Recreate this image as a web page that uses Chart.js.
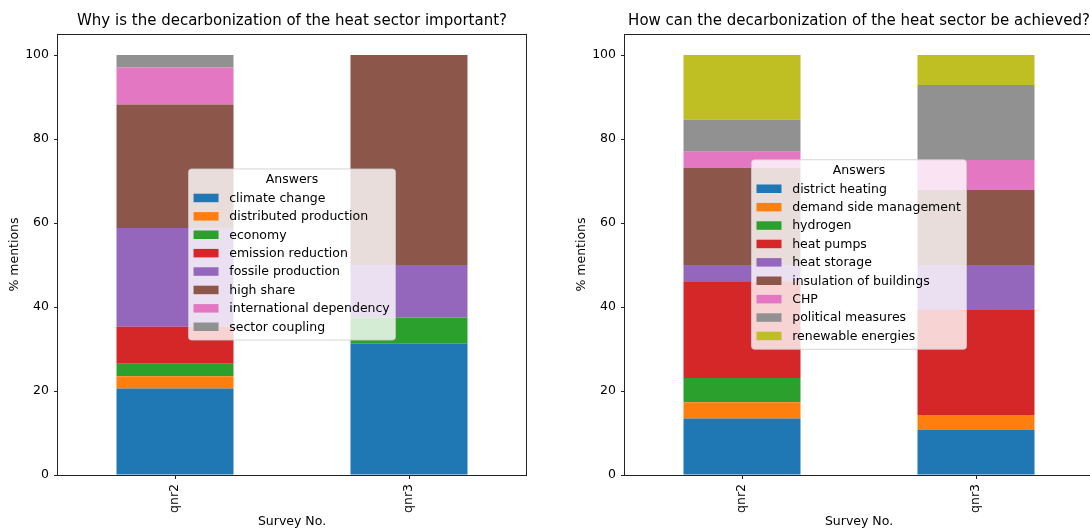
<!DOCTYPE html>
<html>
<head>
<meta charset="utf-8">
<script src="https://cdn.jsdelivr.net/npm/chart.js@4.4.1/dist/chart.umd.min.js"></script>
<style>
  html, body { margin: 0; padding: 0; background: #fff; overflow: hidden; width: 1090px; height: 532px; position: relative; }
  canvas { position: absolute; top: 0; }
  #why { left: 0; }
  #how { left: 567px; }
</style>
</head>
<body>
<canvas id="why" width="560" height="532"></canvas>
<canvas id="how" width="560" height="532"></canvas>
<script>
// Survey rounds on the x axis
const surveys = ['qnr2', 'qnr3'];

// Share of mentions (%) — "Why is the decarbonization of the heat sector important?"
const whyAnswers = ['climate change', 'distributed production', 'economy', 'emission reduction',
  'fossile production', 'high share', 'international dependency', 'sector coupling'];
const whyQnr2 = [20.59, 2.94, 2.94, 8.82, 23.53, 29.41, 8.82, 2.94];
const whyQnr3 = [31.25, 0, 6.25, 0, 12.5, 50.0, 0, 0];

// Share of mentions (%) — "How can the decarbonization of the heat sector be achieved?"
const howAnswers = ['district heating', 'demand side management', 'hydrogen', 'heat pumps',
  'heat storage', 'insulation of buildings', 'CHP', 'political measures', 'renewable energies'];
const howQnr2 = [13.46, 3.85, 5.77, 23.08, 3.85, 23.08, 3.85, 7.69, 15.38];
const howQnr3 = [10.71, 3.57, 0, 25.0, 10.71, 17.86, 7.14, 17.86, 7.14];

// Value axis ticks
const yTickValues = [0, 20, 40, 60, 80, 100];

const palette = ['#1f77b4', '#ff7f0e', '#2ca02c', '#d62728', '#9467bd',
  '#8c564b', '#e377c2', '#919191', '#bfbe22'];

const FONT = '"DejaVu Sans", "Liberation Sans", sans-serif';
const INK = '#222';
const LABEL_SIZE = 12.5;
Chart.defaults.font.family = FONT;
Chart.defaults.color = '#000';

// Box around the whole plot area (all four sides)
const frame = {
  id: 'frame',
  afterDatasetsDraw(chart) {
    const { ctx, chartArea: a } = chart;
    ctx.save();
    ctx.strokeStyle = INK;
    ctx.lineWidth = 1;
    ctx.strokeRect(Math.round(a.left) - 0.5, Math.round(a.top) + 0.5,
      Math.round(a.right) - Math.round(a.left) + 1, Math.round(a.bottom) - Math.round(a.top));
    ctx.restore();
  }
};

// Framed legend drawn in the middle of the plot area, over the bars
const boxLegend = {
  id: 'boxLegend',
  afterDraw(chart, args, o) {
    const { ctx, chartArea: a } = chart;
    const items = chart.data.datasets;
    ctx.save();
    ctx.font = `${o.fontSize}px ${FONT}`;
    const textW = Math.max(...items.map(d => ctx.measureText(d.label).width));
    const w = o.padL + o.handleW + o.gap + textW + o.padR;
    const h = o.firstRow + (items.length - 1) * o.rowH + o.lastPad;
    const x = (a.left + a.right) / 2 - w / 2;
    const y = (a.top + a.bottom) / 2 - h / 2;
    const r = 3;
    ctx.beginPath();
    ctx.moveTo(x + r, y);
    ctx.arcTo(x + w, y, x + w, y + h, r);
    ctx.arcTo(x + w, y + h, x, y + h, r);
    ctx.arcTo(x, y + h, x, y, r);
    ctx.arcTo(x, y, x + w, y, r);
    ctx.closePath();
    ctx.fillStyle = 'rgba(255,255,255,0.8)';
    ctx.fill();
    ctx.strokeStyle = 'rgba(204,204,204,0.8)';
    ctx.lineWidth = 1;
    ctx.stroke();

    ctx.fillStyle = '#000';
    ctx.textBaseline = 'middle';
    ctx.textAlign = 'center';
    ctx.fillText(o.title, x + w / 2, y + o.titleY);
    ctx.textAlign = 'left';
    items.forEach((d, i) => {
      const cy = y + o.firstRow + i * o.rowH;
      ctx.fillStyle = d.backgroundColor;
      ctx.fillRect(x + o.padL, cy - o.handleH / 2, o.handleW, o.handleH);
      ctx.fillStyle = '#000';
      ctx.fillText(d.label, x + o.padL + o.handleW + o.gap, cy + 0.5);
    });
    ctx.restore();
  }
};

function stackedChart(id, title, answers, qnr2, qnr3) {
  const datasets = answers.map((label, i) => ({
    label,
    data: [qnr2[i], qnr3[i]],
    backgroundColor: palette[i],
    borderWidth: 0,
    barPercentage: 0.5,
    categoryPercentage: 1
  }));
  return new Chart(document.getElementById(id), {
    type: 'bar',
    data: { labels: surveys, datasets },
    options: {
      responsive: false,
      animation: false,
      layout: { padding: { left: 0, right: 34, top: 0, bottom: 0 } },
      plugins: {
        legend: { display: false },
        tooltip: { enabled: false },
        title: {
          display: true, text: title, fullSize: false, color: '#000',
          font: { size: 15, weight: 'normal' },
          padding: { top: 12, bottom: 4 }
        },
        boxLegend: {
          title: 'Answers', fontSize: LABEL_SIZE,
          padL: 5, handleW: 25, handleH: 8.5, gap: 10.7, padR: 5.7,
          titleY: 10.7, firstRow: 29, rowH: 18.4, lastPad: 13.3
        }
      },
      scales: {
        x: {
          stacked: true,
          offset: true,
          grid: { display: true, offset: false, drawOnChartArea: false, drawTicks: true, tickLength: 4, color: INK },
          border: { display: false },
          ticks: { minRotation: 90, maxRotation: 90, padding: 5, font: { size: LABEL_SIZE }, color: '#000' },
          title: { display: true, text: 'Survey No.', font: { size: LABEL_SIZE }, color: '#000', padding: { top: 0, bottom: 2.5 } },
          afterFit: s => { s.height = 57; }
        },
        y: {
          stacked: true,
          min: 0,
          max: 105,
          grid: { display: true, drawOnChartArea: false, drawTicks: true, tickLength: 4, color: INK },
          border: { display: false },
          afterBuildTicks: s => { s.ticks = yTickValues.map(v => ({ value: v })); },
          ticks: { padding: 5, font: { size: LABEL_SIZE }, color: '#000' },
          title: { display: true, text: '% mentions', font: { size: LABEL_SIZE }, color: '#000', padding: { top: 7.5, bottom: 0 } },
          afterFit: s => { s.width = 58; }
        }
      }
    },
    plugins: [frame, boxLegend]
  });
}

stackedChart('why', 'Why is the decarbonization of the heat sector important?', whyAnswers, whyQnr2, whyQnr3);
stackedChart('how', 'How can the decarbonization of the heat sector be achieved?', howAnswers, howQnr2, howQnr3);
</script>
</body>
</html>
